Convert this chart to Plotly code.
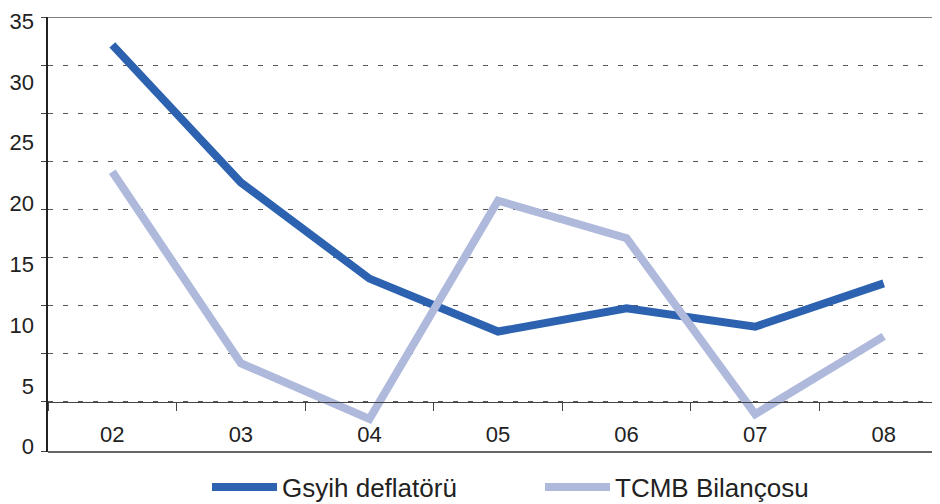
import plotly.graph_objects as go

# Data
years = ["02", "03", "04", "05", "06", "07", "08"]
gsyih_deflatoru = [37.1, 22.8, 12.8, 7.3, 9.7, 7.8, 12.3]
tcmb_bilancosu = [23.9, 4.0, -1.8, 20.9, 17.0, -1.3, 6.8]
label_ticks = [0, 5, 10, 15, 20, 25, 30, 35]
grid_ticks = [-5.2, 0, 5, 10, 15, 20, 25, 30, 35, 40]

FONT = "Liberation Sans, Arial, Helvetica, sans-serif"
DARK = "#2C62AF"
LIGHT = "#AEB9DC"

fig = go.Figure()
fig.add_trace(go.Scatter(x=years, y=gsyih_deflatoru, mode="lines", name="Gsyih deflatörü",
                         line=dict(color=DARK, width=8)))
fig.add_trace(go.Scatter(x=years, y=tcmb_bilancosu, mode="lines", name="TCMB Bilançosu",
                         line=dict(color=LIGHT, width=8)))
# invisible trace to activate the label axis
fig.add_trace(go.Scatter(x=[years[0]], y=[0], yaxis="y2", mode="markers",
                         marker=dict(opacity=0), showlegend=False, hoverinfo="skip"))

fig.update_layout(
    width=940, height=504,
    margin=dict(l=40, r=0, t=9, b=60, autoexpand=False),
    paper_bgcolor="white", plot_bgcolor="white",
    font=dict(family=FONT, color="#222222"),
    xaxis=dict(type="category", range=[-0.5, 6.5], anchor="free", position=(452 - 401.7) / 435,
               showline=True, linecolor="#444444", linewidth=1.2,
               ticks="outside", ticklen=8, tickcolor="#444444", tickson="boundaries",
               ticklabelstandoff=13,
               showgrid=False, tickfont=dict(size=22, color="#222222")),
    yaxis=dict(range=[-5.23, 40], tickvals=grid_ticks, showticklabels=False,
               ticks="outside", ticklen=5, tickcolor="#444444",
               showgrid=True, gridcolor="#555555", gridwidth=1, griddash="5px,10px",
               zeroline=False, showline=True, linecolor="#222222", linewidth=1.5),
    yaxis2=dict(overlaying="y", side="left", range=[-0.436, 35.33], tickvals=label_ticks,
                showgrid=False, zeroline=False, showline=False, ticks="",
                ticklabeloverflow="allow",
                ticklabelstandoff=13, tickfont=dict(size=22, color="#222222")),
    showlegend=True,
    legend=dict(orientation="h", x=(199 - 40) / 900, xanchor="left", y=-(479 - 444) / 435,
                yanchor="middle",
                font=dict(size=26, color="#222222"), itemwidth=65, entrywidth=253,
                bgcolor="rgba(0,0,0,0)"),
    shapes=[
        dict(type="line", xref="paper", yref="y", x0=0, x1=1, y0=40, y1=40,
             line=dict(color="#555555", width=1.5)),
        dict(type="line", xref="paper", yref="paper", x0=0, x1=1, y0=0, y1=0,
             line=dict(color="#333333", width=1.5)),
    ],
)

fig.write_html("out.html")
